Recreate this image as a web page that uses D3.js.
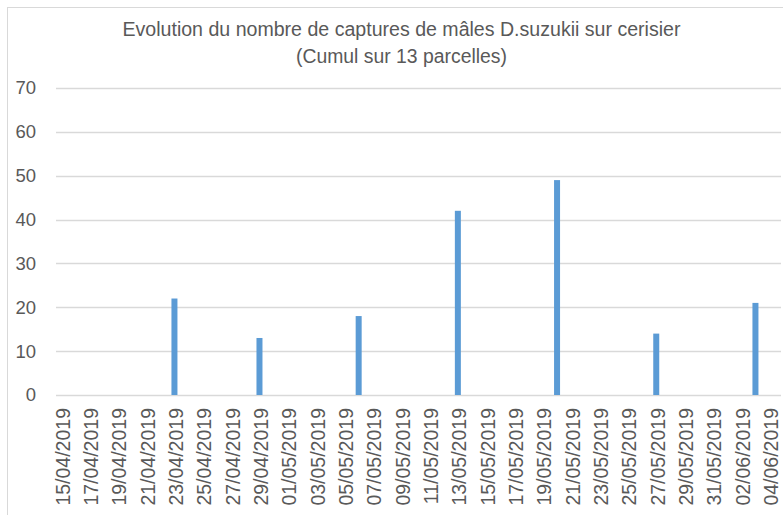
<!DOCTYPE html>
<html>
<head>
<meta charset="utf-8">
<script src="https://cdn.jsdelivr.net/npm/d3@7"></script>
<style>
  html, body { margin: 0; padding: 0; background: #ffffff; }
  svg { display: block; }
</style>
</head>
<body>
<svg id="chart" width="783" height="515"></svg>
<script>
// ---- Data ----
const titleLines = ["Evolution du nombre de captures de mâles D.suzukii sur cerisier", "(Cumul sur 13 parcelles)"];
const captureDates = ["23/04/2019", "29/04/2019", "06/05/2019", "13/05/2019", "20/05/2019", "27/05/2019", "03/06/2019"];
const captureValues = [22, 13, 18, 42, 49, 14, 21];
const tickLabels = ["15/04/2019","17/04/2019","19/04/2019","21/04/2019","23/04/2019","25/04/2019","27/04/2019",
  "29/04/2019","01/05/2019","03/05/2019","05/05/2019","07/05/2019","09/05/2019","11/05/2019","13/05/2019",
  "15/05/2019","17/05/2019","19/05/2019","21/05/2019","23/05/2019","25/05/2019","27/05/2019","29/05/2019",
  "31/05/2019","02/06/2019","04/06/2019"];
const yTicks = [0, 10, 20, 30, 40, 50, 60, 70];

// ---- Setup ----
const parse = d3.utcParse("%d/%m/%Y");
const fmt = d3.utcFormat("%d/%m/%Y");
const svg = d3.select("#chart");
const textColor = "#595959";
const gridColor = "#d9d9d9";
const half = 12 * 3600 * 1000;

const firstDay = parse(tickLabels[0]);
const lastDay = parse(tickLabels[tickLabels.length - 1]);
const x = d3.scaleUtc()
  .domain([new Date(+firstDay - half), new Date(+lastDay + half)])
  .range([55, 777.7]);
const y = d3.scaleLinear().domain([0, 70]).range([395, 88]);

// chart border
svg.append("rect")
  .attr("x", 7.5).attr("y", 7.5).attr("width", 900).attr("height", 700)
  .attr("fill", "none").attr("stroke", gridColor).attr("stroke-width", 1);

// title
const title = svg.append("g").attr("class", "title");
const titleWidths = [558, 211];
const titleBase = [36, 63];
titleLines.forEach((t, i) => {
  title.append("text")
    .attr("x", 401.5).attr("y", titleBase[i])
    .attr("text-anchor", "middle")
    .attr("font-family", "'Liberation Sans', Arial, sans-serif")
    .attr("font-size", 19.5)
    .attr("fill", textColor)
    .attr("textLength", titleWidths[i])
    .attr("lengthAdjust", "spacingAndGlyphs")
    .text(t);
});

// gridlines
svg.append("g").attr("class", "grid")
  .selectAll("line").data(yTicks).join("line")
  .attr("x1", 56).attr("x2", 781)
  .attr("y1", d => Math.round(y(d)) + 0.5).attr("y2", d => Math.round(y(d)) + 0.5)
  .attr("stroke", gridColor).attr("stroke-width", 1.3);

// y axis (labels only)
const yAxis = svg.append("g").attr("transform", "translate(36,0)")
  .call(d3.axisLeft(y).tickValues(yTicks).tickSize(0).tickPadding(0).tickFormat(d3.format("d")));
yAxis.select(".domain").remove();
yAxis.selectAll("text")
  .attr("font-family", "'Liberation Sans', Arial, sans-serif")
  .attr("font-size", 18.5)
  .attr("fill", textColor);

// x axis (rotated date labels)
const xAxis = svg.append("g").attr("transform", "translate(0,395)")
  .call(d3.axisBottom(x).tickValues(tickLabels.map(parse)).tickSize(0).tickFormat(fmt));
xAxis.select(".domain").remove();
xAxis.selectAll("text")
  .attr("font-family", "'Liberation Sans', Arial, sans-serif")
  .attr("font-size", 19.5)
  .attr("fill", textColor)
  .attr("text-anchor", "end")
  .attr("transform", "rotate(-90)")
  .attr("x", -13).attr("y", 0).attr("dy", "0.36em");

// bars
const barW = 6;
svg.append("g").attr("class", "bars")
  .selectAll("rect").data(captureDates.map((d, i) => ({date: parse(d), value: captureValues[i]})))
  .join("rect")
  .attr("x", d => x(d.date) - barW / 2 - 1)
  .attr("width", barW)
  .attr("y", d => y(d.value))
  .attr("height", d => y(0) - y(d.value))
  .attr("fill", "#5B9BD5");
</script>
</body>
</html>
